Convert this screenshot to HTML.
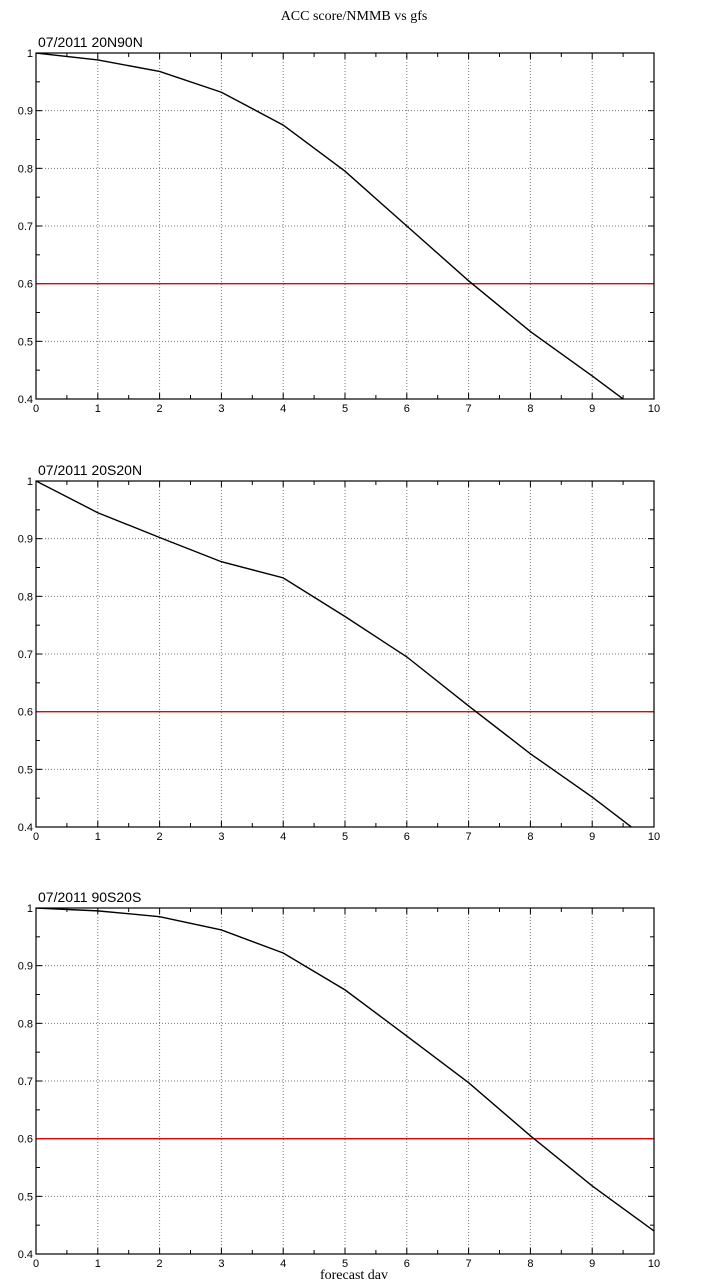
<!DOCTYPE html>
<html><head><meta charset="utf-8"><style>
body{margin:0;background:#fff;width:709px;height:1281px;overflow:hidden}
svg{display:block}
text{font-family:"Liberation Sans",sans-serif;font-size:11px;fill:#000}
</style></head><body>
<svg id="svg" width="709" height="1281">
<text x="354" y="20" text-anchor="middle" style="font-family:'Liberation Serif',serif;font-size:14px">ACC score/NMMB vs gfs</text>
<text x="354" y="1279" text-anchor="middle" style="font-family:'Liberation Serif',serif;font-size:14px">forecast dav</text>
</svg>
<script>
const days=[0,1,2,3,4,5,6,7,8,9,10];
const titles=["07/2011 20N90N","07/2011 20S20N","07/2011 90S20S"];
const acc20N90N=[1.0,0.988,0.968,0.932,0.875,0.795,0.700,0.605,0.517,0.440,0.360];
const acc20S20N=[1.0,0.945,0.902,0.860,0.832,0.765,0.695,0.610,0.527,0.452,0.370];
const acc90S20S=[1.0,0.995,0.985,0.962,0.922,0.858,0.778,0.697,0.605,0.518,0.440];
const refLine=0.6;
const xTicks=[0,1,2,3,4,5,6,7,8,9,10];
const yTicks=[0.4,0.5,0.6,0.7,0.8,0.9,1];
const series=[acc20N90N,acc20S20N,acc90S20S];
const tops=[53,481,908];
const NS="http://www.w3.org/2000/svg";
const svg=document.getElementById('svg');
const L=36,R=654,H=346;
function mk(tag,attrs,parent){const e=document.createElementNS(NS,tag);for(const k in attrs)e.setAttribute(k,attrs[k]);parent.appendChild(e);return e;}
series.forEach((vals,i)=>{
  const T=tops[i],B=T+H;
  const xs=v=>L+(v-0)/(10-0)*(R-L);
  const ys=v=>B-(v-0.4)/(1-0.4)*H;
  const g=mk('g',{},svg);
  
  
  const cid='clip'+i;
  const cp=mk('clipPath',{id:cid},g);mk('rect',{x:L,y:T,width:R-L,height:H},cp);
  const t=mk('text',{x:38,y:T-6,style:'font-size:14px'},g);t.textContent=titles[i];
  
  
  xTicks.forEach(v=>{
    const x=xs(v);
    if(v>0&&v<10) mk('line',{x1:x,x2:x,y1:T,y2:B,stroke:'#777','stroke-dasharray':'1,2','stroke-width':1},g);
    mk('line',{x1:x,x2:x,y1:B,y2:B-6,stroke:'#000'},g);
    mk('line',{x1:x,x2:x,y1:T,y2:T+6,stroke:'#000'},g);
    if(v<10){const xm=xs(v+0.5);mk('line',{x1:xm,x2:xm,y1:B,y2:B-4,stroke:'#000'},g);mk('line',{x1:xm,x2:xm,y1:T,y2:T+4,stroke:'#000'},g);}
    const tx=mk('text',{x:x,y:B+13,'text-anchor':'middle'},g);tx.textContent=v;
    
    
  });
  yTicks.forEach(v=>{
    const y=ys(v);
    if(v>0.4&&v<1) mk('line',{x1:L,x2:R,y1:y,y2:y,stroke:'#777','stroke-dasharray':'1,2','stroke-width':1},g);
    mk('line',{x1:L,x2:L+6,y1:y,y2:y,stroke:'#000'},g);
    mk('line',{x1:R,x2:R-6,y1:y,y2:y,stroke:'#000'},g);
    if(v<1){const ym=ys(v+0.05);mk('line',{x1:L,x2:L+4,y1:ym,y2:ym,stroke:'#000'},g);mk('line',{x1:R,x2:R-4,y1:ym,y2:ym,stroke:'#000'},g);}
    const ty=mk('text',{x:L-3,y:y+4,'text-anchor':'end'},g);ty.textContent=(v===1?'1':v.toFixed(1));
    
    
  });
  const rl=mk('line',{x1:L,x2:R,y1:ys(refLine),y2:ys(refLine),stroke:'#e00','stroke-width':1.3},g);
  
  
  const p=mk('polyline',{points:vals.map((v,j)=>xs(days[j])+','+ys(v)).join(' '),fill:'none',stroke:'#000','stroke-width':1.4,'clip-path':'url(#'+cid+')'},g);
  
  
  const fr=mk('rect',{x:L,y:T,width:R-L,height:H,fill:'none',stroke:'#000','stroke-width':1.2},g);
  
  
});
</script>
</body></html>
